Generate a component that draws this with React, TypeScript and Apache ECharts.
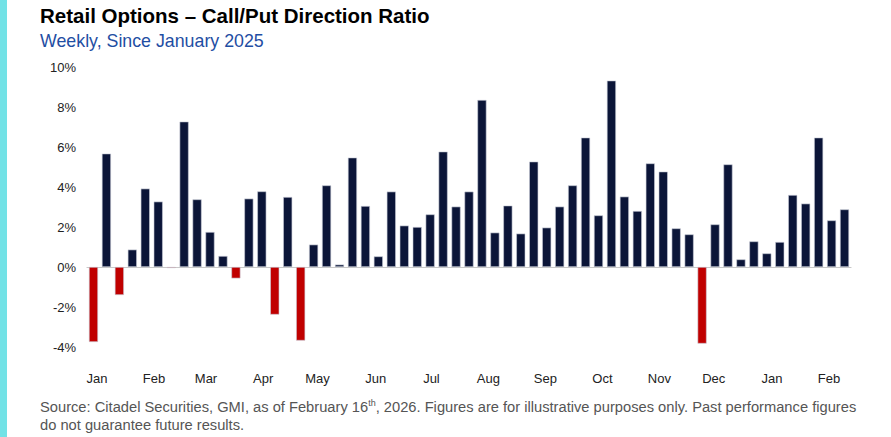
import React, { useEffect, useRef } from "react";
import * as echarts from "echarts";

// Weekly values (%), Jan 3 2025 .. Feb 13 2026
const values: number[] = [
  -3.75, 5.67, -1.4, 0.87, 3.92, 3.27, -0.05, 7.27, 3.38, 1.75, 0.55, -0.57,
  3.42, 3.78, -2.38, 3.5, -3.68, 1.12, 4.08, 0.12, 5.47, 3.05, 0.53, 3.77,
  2.07, 2.0, 2.63, 5.77, 3.02, 3.77, 8.35, 1.72, 3.07, 1.67, 5.27, 1.97,
  3.02, 4.08, 6.47, 2.58, 9.32, 3.52, 2.8, 5.18, 4.77, 1.93, 1.63, -3.83,
  2.13, 5.13, 0.38, 1.28, 0.68, 1.25, 3.6, 3.17, 6.47, 2.33, 2.88,
];

const weekStart = Date.UTC(2025, 0, 3);
const categories: string[] = values.map((_, i) =>
  new Date(weekStart + i * 7 * 86400000).toISOString().slice(0, 10)
);

const monthLabels: string[] = [
  "Jan", "Feb", "Mar", "Apr", "May", "Jun", "Jul", "Aug", "Sep", "Oct", "Nov", "Dec", "Jan", "Feb",
];
// label positions along the weekly index axis
const monthLabelAt: number[] = [
  0.77, 5.17, 9.19, 13.6, 17.8, 22.3, 26.6, 31.0, 35.4, 39.8, 44.2, 48.4, 52.9, 57.3,
];

const yTicks = { min: -4, max: 10, interval: 2 };

const NAVY = "#0b1538";
const RED = "#c00000";
const FONT = "Arial, 'Liberation Sans', sans-serif";

export default function App() {
  const ref = useRef<HTMLDivElement>(null);
  useEffect(() => {
    if (!ref.current) return;
    const chart = echarts.init(ref.current, undefined, { renderer: "svg" });
    chart.setOption({
      animation: false,
      backgroundColor: "#ffffff",
      textStyle: { fontFamily: FONT },
      grid: { left: 87, right: 40, top: 67, bottom: 90, containLabel: false },
      xAxis: [
        {
          type: "category",
          data: categories,
          position: "top",
          axisLine: { show: true, onZero: true, lineStyle: { color: "#c8c8c8", width: 1.2 } },
          axisTick: { show: false },
          axisLabel: { show: false },
          splitLine: { show: false },
        },
        {
          type: "value",
          position: "bottom",
          min: 0,
          max: values.length,
          axisLine: { show: false, onZero: false },
          axisTick: { show: false },
          splitLine: { show: false },
          axisLabel: {
            show: true,
            customValues: monthLabelAt,
            formatter: (v: number) => {
              let best = 0;
              for (let i = 1; i < monthLabelAt.length; i++) {
                if (Math.abs(monthLabelAt[i] - v) < Math.abs(monthLabelAt[best] - v)) best = i;
              }
              return monthLabels[best];
            },
            color: "#222222",
            fontSize: 13,
            margin: 25,
            fontFamily: FONT,
          },
        },
      ],
      yAxis: {
        type: "value",
        min: yTicks.min,
        max: yTicks.max,
        interval: yTicks.interval,
        axisLine: { show: false },
        axisTick: { show: false },
        splitLine: { show: false },
        axisLabel: {
          formatter: (v: number) => `${v}%`,
          color: "#222222",
          fontSize: 13,
          margin: 11,
          fontFamily: FONT,
        },
      },
      series: [
        {
          type: "bar",
          xAxisIndex: 0,
          data: values.map((v) => ({
            value: v,
            itemStyle: { color: v < 0 ? RED : NAVY },
          })),
          barCategoryGap: "30%",
          itemStyle: { borderColor: "#c9ccd8", borderWidth: 0.6 },
        },
      ],
      graphic: [
        {
          type: "rect",
          left: 0,
          top: 0,
          shape: { width: 7, height: 437 },
          style: { fill: "#72e2e6" },
        },
        {
          type: "text",
          left: 40,
          top: 5,
          style: {
            text: "Retail Options – Call/Put Direction Ratio",
            font: `bold 20.5px ${FONT}`,
            fill: "#000000",
          },
        },
        {
          type: "text",
          left: 40,
          top: 32,
          style: {
            text: "Weekly, Since January 2025",
            font: `17.8px ${FONT}`,
            fill: "#1f4ea3",
          },
        },
        {
          type: "text",
          left: 40,
          top: 398,
          style: {
            text:
              "{a|Source: Citadel Securities, GMI, as of February 16}{s|th}{a|, 2026. Figures are for illustrative purposes only. Past performance figures}\n{a|do not guarantee future results.}",
            rich: {
              a: { fontSize: 14.7, fill: "#555555", fontFamily: FONT, lineHeight: 18 },
              s: { fontSize: 9, fill: "#555555", fontFamily: FONT, verticalAlign: "top", lineHeight: 18, padding: [0, 0, 6, 0] },
            },
          },
        },
      ],
    });
    return () => chart.dispose();
  }, []);
  return (
    <div
      ref={ref}
      style={{ position: "fixed", left: 0, top: 0, width: 891, height: 437 }}
    />
  );
}
